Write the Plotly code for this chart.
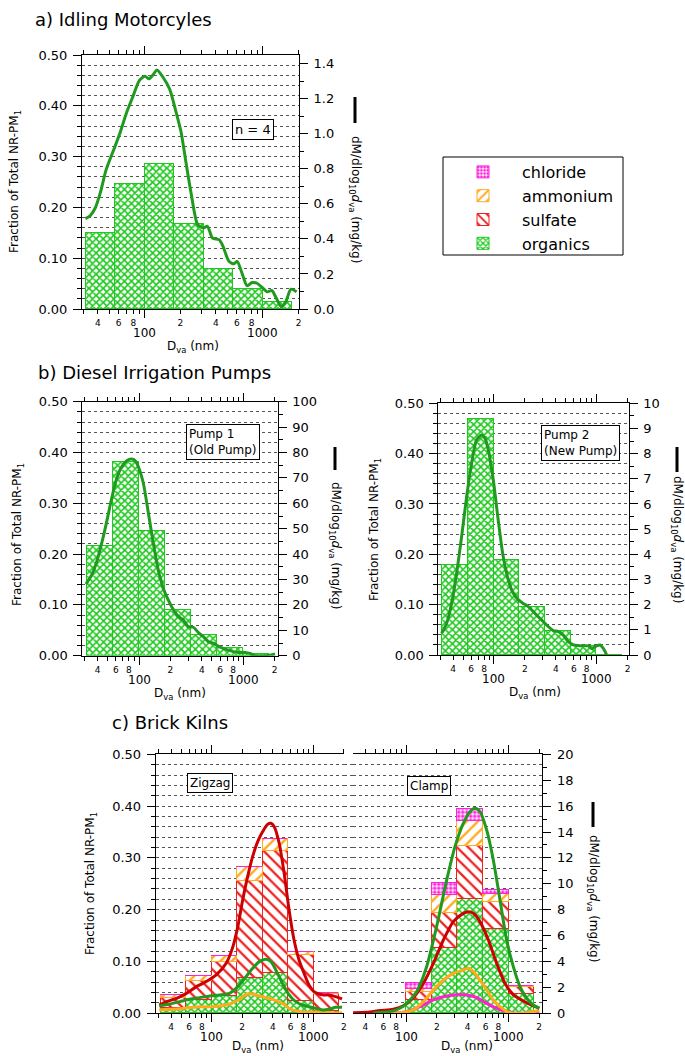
import numpy as np
import plotly.graph_objects as go

W, H = 685, 1056
FONT = "DejaVu Sans"

# ---------------- data ----------------
# size-bin edges (nm), 0.25-decade bins
bin_edges_nm = [31.6, 56.2, 100, 178, 316, 562, 1000, 1778]

# x tick marks (nm) and their labels
tick_nm = [30, 40, 50, 60, 70, 80, 90, 200, 300, 400, 500, 600, 700, 800, 900, 2000]
tick_txt = ["", "4", "", "6", "", "8", "", "2", "", "4", "", "6", "", "8", "", "2"]
decade_nm = [100, 1000]
decade_txt = ["100", "1000"]

# a) Idling motorcycles (fraction of total NR-PM1, organics only)
motor_org = [0.149, 0.246, 0.285, 0.167, 0.079, 0.039, 0.013]
motor_d = [31.4, 34.6, 38.1, 42.0, 47.1, 56.1, 61.8, 70.2, 79.8, 89.7, 100, 108.7, 117.4,
           126.8, 142.5, 162, 184, 203, 223, 246, 280, 312, 339, 374, 425, 459, 515, 568,
           605, 667, 735, 809, 891, 982, 1081, 1190, 1285, 1425, 1560, 1727, 1926]
motor_v = [0.516, 0.534, 0.578, 0.664, 0.797, 0.931, 1.008, 1.123, 1.218, 1.304, 1.329,
           1.314, 1.337, 1.365, 1.323, 1.256, 1.123, 1.008, 0.836, 0.664, 0.482, 0.463,
           0.472, 0.405, 0.396, 0.358, 0.272, 0.258, 0.272, 0.201, 0.132, 0.151, 0.147,
           0.124, 0.098, 0.105, 0.067, 0.013, 0.042, 0.113, 0.098]

# b) Diesel irrigation pumps
pump1_org = [0.216, 0.381, 0.246, 0.090, 0.042, 0.016, 0.003]
pump1_d = [31.0, 35.2, 39.3, 43.8, 49.0, 54.7, 61.1, 68.2, 76.2, 85.1, 91.6, 98.5, 110, 123,
           137, 153, 171, 191, 213, 238, 266, 297, 332, 371, 414, 462, 516, 576, 643, 718,
           802, 896, 1038, 1158, 1294, 1675, 2014]
pump1_v = [28.2, 31.8, 37.0, 44.2, 52.8, 62.0, 69.8, 74.4, 76.8, 77.4, 76.8, 74.4, 67.9, 56.1,
           44.3, 33.7, 26.5, 21.9, 18.2, 15.5, 14.0, 11.4, 11.2, 9.1, 7.5, 5.5, 4.9, 3.8, 2.9,
           2.2, 1.6, 1.3, 1.3, 0.9, 0.0, 0.0, 0.7]

pump2_org = [0.178, 0.469, 0.188, 0.095, 0.048, 0.017, 0.0]
pump2_d = [30.9, 34.6, 38.7, 43.3, 48.4, 54.2, 60.6, 67.7, 75.9, 81.7, 88.1, 98.5, 110, 123,
           138, 154, 173, 193, 216, 242, 270, 303, 338, 378, 424, 473, 530, 593, 688, 830,
           894, 1000, 1077, 1161, 1251]
pump2_v = [0.86, 1.26, 2.05, 3.25, 4.70, 6.29, 7.62, 8.54, 8.74, 8.61, 8.15, 6.95, 5.36, 3.91,
           2.98, 2.45, 2.19, 2.05, 1.92, 1.72, 1.52, 1.32, 1.13, 0.97, 0.93, 0.79, 0.53, 0.40,
           0.37, 0.36, 0.26, 0.36, 0.40, 0.26, 0.0]

# c) Brick kilns - Zigzag (stacked fractions)
zz_org = [0.010, 0.025, 0.033, 0.067, 0.077, 0.024, 0.004]
zz_sulf = [0.019, 0.036, 0.066, 0.187, 0.236, 0.088, 0.033]
zz_amm = [0.006, 0.010, 0.012, 0.028, 0.022, 0.006, 0.002]
zz_chl = [0.0, 0.0, 0.0, 0.0, 0.0, 0.0, 0.0]

zz_sulf_d = [30.5, 36.1, 45.2, 56.5, 70.8, 88.7, 111, 139, 162, 181, 202, 226, 253, 284, 318,
             355, 383, 413, 462, 517, 578, 647, 724, 811, 907, 1016, 1136, 1271, 1422, 1652, 1919]
zz_sulf_v = [0.64, 0.90, 1.16, 1.54, 2.06, 2.45, 2.96, 3.86, 5.15, 6.69, 8.75, 10.55, 12.10,
             13.26, 14.03, 14.59, 14.67, 14.41, 13.13, 10.81, 7.98, 5.66, 4.12, 3.09, 2.19,
             1.67, 1.49, 1.42, 1.42, 1.29, 1.11]
zz_org_d = [30.5, 38.9, 48.7, 61.0, 76.4, 95.6, 120, 150, 181, 218, 253, 294, 342, 383, 428,
            497, 578, 672, 781, 907, 1054, 1225, 1424, 1652, 1919]
zz_org_v = [0.57, 0.72, 0.90, 1.08, 1.21, 1.34, 1.42, 1.54, 2.06, 2.83, 3.47, 3.99, 4.17, 3.99,
            3.35, 2.32, 1.42, 0.90, 0.64, 0.51, 0.39, 0.26, 0.31, 0.46, 0.46]
zz_amm_d = [30.5, 38.9, 48.7, 61.0, 76.4, 95.6, 120, 150, 188, 218, 253, 294, 342, 397, 497,
            578, 724, 907, 1136, 1424, 1652, 1919]
zz_amm_v = [0.26, 0.31, 0.36, 0.44, 0.51, 0.51, 0.57, 0.72, 1.08, 1.47, 1.49, 1.34, 1.21, 1.08,
            0.77, 0.39, 0.13, 0.08, 0.13, 0.08, 0.0, 0.05]

# c) Brick kilns - Clamp (stacked fractions)
cl_org = [0.0, 0.0, 0.026, 0.125, 0.220, 0.162, 0.037]
cl_sulf = [0.0, 0.0, 0.014, 0.068, 0.103, 0.053, 0.013]
cl_amm = [0.0, 0.0, 0.006, 0.035, 0.048, 0.015, 0.003]
cl_chl = [0.0, 0.0, 0.011, 0.023, 0.022, 0.008, 0.0]

cl_org_d = [48.0, 69.8, 87.4, 101.5, 127, 159, 199, 250, 301, 363, 422, 472, 528, 614, 713,
            829, 963, 1119, 1300, 1511, 1754, 2009]
cl_org_v = [0.05, 0.13, 0.39, 0.77, 1.67, 3.60, 6.69, 10.30, 12.87, 14.67, 15.57, 15.83, 15.57,
            14.16, 11.84, 8.75, 5.66, 3.60, 2.06, 1.16, 0.64, 0.39]
cl_sulf_d = [30.5, 41.3, 55.7, 75.2, 94.2, 118, 148, 185, 232, 290, 363, 407, 455, 528, 638,
             769, 927, 1119, 1349, 1629, 2009]
cl_sulf_v = [0.05, 0.08, 0.21, 0.31, 0.57, 1.21, 2.32, 3.86, 5.66, 7.08, 7.72, 7.85, 7.72, 7.08,
             5.66, 3.86, 2.32, 1.42, 1.03, 0.69, 0.39]
cl_amm_d = [33, 87, 118, 148, 185, 232, 290, 350, 407, 455, 528, 614, 713, 829, 963, 1119,
            1511, 2009]
cl_amm_v = [0.0, 0.05, 0.26, 0.90, 1.80, 2.57, 3.09, 3.29, 3.47, 3.22, 2.57, 1.80, 1.03, 0.51,
            0.13, 0.0, 0.05, 0.21]
cl_chl_d = [30.5, 55.7, 101.5, 137, 185, 250, 313, 392, 491, 614, 769, 963, 1206, 1511, 2009]
cl_chl_v = [0.0, 0.0, 0.13, 0.51, 1.03, 1.34, 1.44, 1.42, 1.21, 0.77, 0.39, 0.13, 0.0, 0.0, 0.05]

species = ["organics", "sulfate", "ammonium", "chloride"]

# ---------------- styles ----------------
BAR_COL = {"organics": "#1ec81e", "sulfate": "#ee2222", "ammonium": "#ffaa22", "chloride": "#ff22dd"}
PAT = {"organics": ("x", 5, 0.55), "sulfate": ("\\", 8, 0.28),
       "ammonium": ("/", 8, 0.3), "chloride": (".", 4, 0.6)}
LINE_COL = {"organics": "#1f9a1f", "sulfate": "#cc0000", "ammonium": "#ffaa1a", "chloride": "#ff22cc"}
RANK = {"chloride": 1, "ammonium": 2, "sulfate": 3, "organics": 4}


def px(x):
    """window pixel x -> paper fraction"""
    return x / W


def py(y):
    """window pixel y -> paper fraction"""
    return 1 - y / H


lo_e = np.log10(bin_edges_nm[:-1])
hi_e = np.log10(bin_edges_nm[1:])
centers = (lo_e + hi_e) / 2
widths = hi_e - lo_e


def marker(sp):
    shp, size, sol = PAT[sp]
    return dict(color=BAR_COL[sp],
                line=dict(color=BAR_COL[sp], width=1),
                pattern=dict(shape=shp, size=size, solidity=sol,
                             fgcolor=BAR_COL[sp], bgcolor="white", fillmode="replace"))


fig = go.Figure()


def add_bar(vals, sp, xa, ya, legend=False):
    fig.add_trace(go.Bar(x=centers, y=vals, width=widths, xaxis=xa, yaxis=ya,
                         marker=marker(sp), name=sp, showlegend=legend,
                         legendrank=RANK[sp], hoverinfo="skip"))


def add_line(d, v, sp, xa, ya):
    fig.add_trace(go.Scatter(x=np.log10(d), y=v, xaxis=xa, yaxis=ya, mode="lines",
                             line=dict(color=LINE_COL[sp], width=3, shape="spline", smoothing=0.7),
                             showlegend=False, hoverinfo="skip"))


# a
add_bar(motor_org, "organics", "x", "y")
add_line(motor_d, motor_v, "organics", "x", "y2")
# b
add_bar(pump1_org, "organics", "x2", "y3")
add_line(pump1_d, pump1_v, "organics", "x2", "y4")
add_bar(pump2_org, "organics", "x3", "y5")
add_line(pump2_d, pump2_v, "organics", "x3", "y6")
# c zigzag
for vals, sp in zip([zz_org, zz_sulf, zz_amm, zz_chl], species):
    add_bar(vals, sp, "x4", "y7")
add_line(zz_amm_d, zz_amm_v, "ammonium", "x4", "y8")
add_line(zz_sulf_d, zz_sulf_v, "sulfate", "x4", "y8")
add_line(zz_org_d, zz_org_v, "organics", "x4", "y8")
# c clamp
for vals, sp in zip([cl_org, cl_sulf, cl_amm, cl_chl], species):
    add_bar(vals, sp, "x5", "y7", legend=True)
add_line(cl_chl_d, cl_chl_v, "chloride", "x5", "y8")
add_line(cl_amm_d, cl_amm_v, "ammonium", "x5", "y8")
add_line(cl_sulf_d, cl_sulf_v, "sulfate", "x5", "y8")
add_line(cl_org_d, cl_org_v, "organics", "x5", "y8")
# empty trace so the grid of panel c also runs through the gap between the two x axes
fig.add_trace(go.Scatter(x=[], y=[], xaxis="x6", yaxis="y7", showlegend=False, hoverinfo="skip"))

# ---------------- axes ----------------
GRID = "#555555"


def xcfg(x0, x1, rng, anchor):
    return dict(domain=[px(x0), px(x1)], range=rng, anchor=anchor, type="linear",
                automargin=False,
                showline=True, linecolor="black", linewidth=1, mirror="ticks",
                ticks="outside", ticklen=4, tickwidth=1, tickcolor="black",
                tickmode="array", tickvals=list(np.log10(tick_nm)), ticktext=tick_txt,
                tickfont=dict(size=9, family=FONT, color="black"), ticklabelstandoff=1,
                showgrid=False, zeroline=False, fixedrange=True,
                minor=dict(tickmode="array", tickvals=list(np.log10(decade_nm)), ticks="outside",
                           ticklen=8, tickwidth=1, tickcolor="black", showgrid=False))


def ylcfg(y0, y1, anchor):
    return dict(domain=[py(y1), py(y0)], range=[0, 0.5], anchor=anchor, automargin=False,
                showline=True, linecolor="black", linewidth=1,
                ticks="outside", ticklen=8, tickcolor="black", tick0=0, dtick=0.1,
                tickformat=".2f", tickfont=dict(size=13, family=FONT, color="black"),
                ticklabelstandoff=3,
                showgrid=True, gridcolor=GRID, griddash="dot", gridwidth=1, zeroline=False,
                fixedrange=True,
                minor=dict(dtick=0.02, ticks="outside", ticklen=4, tickcolor="black",
                           showgrid=True, gridcolor=GRID, griddash="dot", gridwidth=1))


def yrcfg(over, anchor, top, dt, fmt):
    return dict(overlaying=over, side="right", anchor=anchor, range=[0, top], automargin=False,
                showline=True, linecolor="black", linewidth=1,
                ticks="outside", ticklen=8, tickcolor="black", tick0=0, dtick=dt,
                tickformat=fmt, tickfont=dict(size=13, family=FONT, color="black"),
                ticklabelstandoff=3, showgrid=False, zeroline=False, fixedrange=True,
                minor=dict(dtick=dt / 2, ticks="outside", ticklen=4, tickcolor="black",
                           showgrid=False))


# panel geometry (window pixels)
A = dict(x0=82, x1=299, y0=55, y1=309, rng=[1.468, 3.305])
B1 = dict(x0=82.3, x1=277.7, y0=401.7, y1=655.7, rng=[1.456, 3.33])
B2 = dict(x0=438.3, x1=628.7, y0=403.3, y1=655, rng=[1.458, 3.312])
CZ = dict(x0=155.7, x1=344.3, y0=754.3, y1=1013.3, rng=[1.45, 3.305])
CC = dict(x0=352.7, x1=542.3, y0=754.3, y1=1013.3, rng=[1.479, 3.332])

layout_axes = dict(
    xaxis=xcfg(A["x0"], A["x1"], A["rng"], "y"),
    yaxis=ylcfg(A["y0"], A["y1"], "x"),
    yaxis2=yrcfg("y", "x", 1.45, 0.2, ".1f"),
    xaxis2=xcfg(B1["x0"], B1["x1"], B1["rng"], "y3"),
    yaxis3=ylcfg(B1["y0"], B1["y1"], "x2"),
    yaxis4=yrcfg("y3", "x2", 100, 10, "d"),
    xaxis3=xcfg(B2["x0"], B2["x1"], B2["rng"], "y5"),
    yaxis5=ylcfg(B2["y0"], B2["y1"], "x3"),
    yaxis6=yrcfg("y5", "x3", 10, 1, "d"),
    xaxis4=xcfg(CZ["x0"], CZ["x1"], CZ["rng"], "y7"),
    xaxis5=xcfg(CC["x0"], CC["x1"], CC["rng"], "y7"),
    xaxis6=dict(domain=[px(CZ["x1"]), px(CC["x0"])], range=[0, 1], anchor="y7",
                showline=False, showticklabels=False, ticks="", showgrid=False,
                zeroline=False, fixedrange=True, automargin=False),
    yaxis7=ylcfg(CZ["y0"], CZ["y1"], "x4"),
    yaxis8=yrcfg("y7", "x5", 20, 2, "d"),
)

# ---------------- text ----------------
ann = []


def txt(x, y, s, size=12, xanchor="center", yanchor="middle", angle=0, xref="paper", **kw):
    ann.append(dict(x=x, y=y, xref=xref, yref="paper", text=s, showarrow=False,
                    xanchor=xanchor, yanchor=yanchor, textangle=angle,
                    font=dict(size=size, family=FONT, color="black"), **kw))


# panel titles
txt(px(33), py(20), "a) Idling Motorcyles", 18, xanchor="left")
txt(px(36), py(372), "b) Diesel Irrigation Pumps", 18, xanchor="left")
txt(px(110), py(722), "c) Brick Kilns", 18, xanchor="left")

# decade labels and x titles
XT = "D<sub>va</sub> (nm)"
for xa, ax_y, cx in [("x", 309, 193), ("x2", 655.7, 180), ("x3", 655, 535),
                     ("x4", 1013.3, 258), ("x5", 1013.3, 467)]:
    for v, s in zip(decade_nm, decade_txt):
        txt(np.log10(v), py(ax_y + 24), s, 12, xref=xa)
    txt(px(cx), py(min(ax_y + 38, 1047)), XT, 12)

# left titles
YL = "Fraction of Total NR-PM<sub>1</sub>"
txt(px(15), py(182), YL, 12, angle=-90)
txt(px(18), py(535), YL, 12, angle=-90)
txt(px(375), py(530), YL, 12, angle=-90)
txt(px(91), py(884), YL, 12, angle=-90)

# right titles with black line key
YR = "dM/dlog<sub>10</sub><i>d</i><sub>va</sub> (mg/kg)"
shapes = []
for xc, b0, b1, tc in [(355, 97, 123, 199), (335, 447, 470, 545),
                       (677, 447, 472, 539), (593, 802, 827, 898)]:
    shapes.append(dict(type="line", xref="paper", yref="paper", x0=px(xc), x1=px(xc),
                       y0=py(b0), y1=py(b1), line=dict(color="black", width=3)))
    txt(px(xc), py(tc), YR, 12, angle=90)

# legend frame
shapes.append(dict(type="rect", xref="paper", yref="paper", x0=px(443), x1=px(623),
                   y0=py(255), y1=py(157), line=dict(color="black", width=1),
                   fillcolor="rgba(0,0,0,0)", layer="above"))

# boxed labels
box = dict(bordercolor="black", borderwidth=1, borderpad=2, bgcolor="white")
txt(px(253), py(129.5), "n = 4", 13, **box)
txt(px(223.5), py(442.5), "Pump 1<br>(Old Pump)", 12, align="left", **box)
txt(px(580.5), py(443), "Pump 2<br>(New Pump)", 12, align="left", **box)
txt(px(209.5), py(783), "Zigzag", 12, **box)
txt(px(429), py(786), "Clamp", 12, **box)

fig.update_layout(
    width=W, height=H, margin=dict(l=0, r=0, t=0, b=0, autoexpand=False),
    paper_bgcolor="white", plot_bgcolor="white",
    barmode="stack", bargap=0,
    font=dict(family=FONT, color="black"),
    showlegend=True,
    legend=dict(x=px(444), y=py(155), xanchor="left", yanchor="top",
                borderwidth=0, bgcolor="rgba(0,0,0,0)",
                font=dict(size=16, family=FONT, color="black"),
                traceorder="normal", itemwidth=68),
    annotations=ann, shapes=shapes,
    **layout_axes,
)

# place the figure at the window's top-left corner (no default page margin, no scrollbars)
fig.write_html("out.html",
               config={"displayModeBar": False},
               post_script="document.body.style.margin='0';"
                           "document.body.style.overflow='hidden';")
